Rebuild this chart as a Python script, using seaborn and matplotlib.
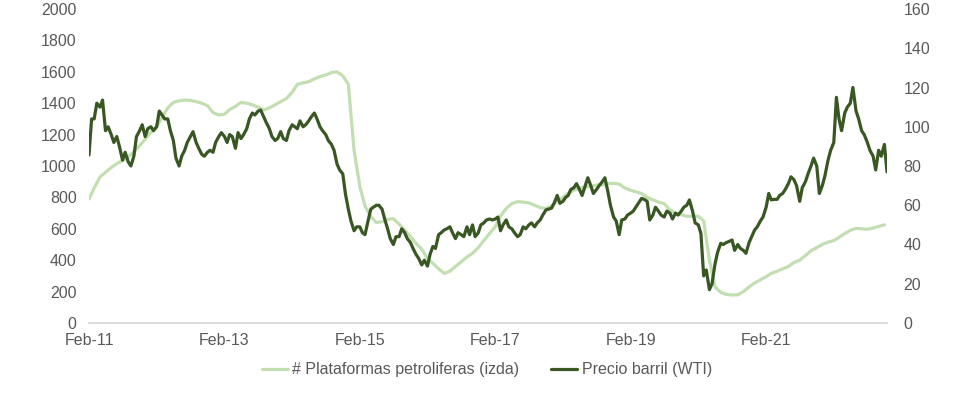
"""
plot.py
US oil rig count vs WTI barrel price, dual axis line chart.
"""

import matplotlib
matplotlib.use("Agg")
import matplotlib.pyplot as plt
import matplotlib.dates as mdates
import pandas as pd
import seaborn as sns

# Oil rigs, monthly from Feb-2011 (left axis)
RIGS = [
    790, 860, 930, 960, 990, 1015, 1035, 1059, 1090, 1130, 1170, 1215,
    1250, 1310, 1370, 1405, 1415, 1420, 1418, 1410, 1400, 1385, 1340, 1325,
    1330, 1360, 1380, 1405, 1400, 1390, 1375, 1357, 1370, 1390, 1410, 1430,
    1470, 1520, 1530, 1537, 1555, 1570, 1580, 1595, 1600, 1575, 1520, 1100,
    870, 745, 677, 640, 645, 660, 665, 630, 592, 550, 508, 470,
    410, 380, 345, 316, 330, 360, 390, 420, 444, 480, 525, 570,
    613, 680, 730, 760, 773, 770, 765, 750, 735, 730, 745, 780,
    800, 826, 845, 860, 865, 870, 879, 880, 888, 890, 885, 860,
    845, 836, 825, 800, 785, 770, 760, 720, 699, 690, 680, 680,
    680, 650, 400, 230, 195, 182, 178, 180, 200, 230, 255, 275,
    295, 316, 330, 345, 360, 385, 400, 430, 460, 480, 500, 515,
    525, 545, 570, 590, 603, 600, 597, 605, 615, 625,
]

# WTI price, twice a month from Feb-2011 (right axis)
WTI = [
    85.6, 104, 104, 112, 110, 113.6, 98, 100, 96, 92, 95, 90,
    83, 87, 82, 80, 85, 95, 98, 101, 95, 99, 100, 98,
    100, 108, 106, 104, 104, 98, 93, 84, 80, 85, 88, 92,
    95, 97.5, 92, 89, 86, 85, 87, 88, 87, 92, 95, 97,
    95, 92, 96, 95, 89, 97, 94, 96, 99, 104, 107, 106,
    108, 108.5, 105, 102, 99, 95, 93, 94, 97.5, 94, 93, 98,
    101, 100, 99, 103, 100, 101, 103, 105, 107, 104, 100, 98,
    96, 93, 91, 88, 81, 78, 76, 66, 58, 52, 47, 49,
    49, 46, 45, 51, 58, 59, 60, 60, 58, 53, 48, 43,
    40, 44, 44, 48, 46, 43, 41, 38, 35, 33, 29.6, 32,
    29, 35, 39, 38, 45, 46, 47.4, 48, 49, 46, 43, 46,
    45, 44, 49, 45, 50, 44, 46, 50, 51, 52.5, 53, 52.5,
    53, 54, 47, 50, 52.5, 49, 48, 46, 44, 45, 49, 48,
    50, 51, 49, 51, 52.5, 55, 57.6, 58, 58.5, 61, 65, 61,
    62, 64, 65, 68, 69, 71, 68, 65, 70, 74, 70, 66,
    68, 70, 72, 74, 67, 60, 54, 52, 45, 52.5, 53, 55,
    56, 57, 59, 61, 63.5, 63, 62, 52.5, 55, 59, 57, 55,
    54, 57, 56, 53, 56, 55, 57, 59, 60, 62.7, 57, 51,
    50, 45.7, 24, 27, 17, 20, 30, 36, 40.6, 40, 41, 41.5,
    42.3, 37, 40, 38, 37, 35.5, 41, 44, 47.4, 49, 52, 54,
    59, 66, 62.7, 63, 63, 65, 66, 68, 71, 74.5, 73, 70,
    62, 69, 72, 76, 80, 84, 80, 66, 70, 75, 83, 88,
    92, 115, 104, 98, 107, 110, 112, 120, 108, 104, 98, 96,
    92, 88, 85, 78, 88, 85, 91, 77,
]

RIG_LABEL = "# Plataformas petroliferas (izda)"
WTI_LABEL = "Precio barril (WTI)"
TICK_YEARS = [2011, 2013, 2015, 2017, 2019, 2021]

LIGHT = "#c2dfb2"
DARK = "#385723"
GREY = "#595959"
FS = 11.5


def main():
    rigs = pd.DataFrame({
        "fecha": pd.date_range("2011-02-01", periods=len(RIGS), freq="MS"),
        "valor": RIGS,
    })
    wti = pd.DataFrame({
        "fecha": pd.date_range("2011-02-01", periods=len(WTI), freq="SMS"),
        "valor": WTI,
    })

    sns.set_style("white")
    plt.rcParams["font.family"] = ["Liberation Sans", "DejaVu Sans"]

    fig, ax = plt.subplots(figsize=(9.55, 3.99), dpi=100)
    fig.subplots_adjust(left=0.0932, right=0.9288, bottom=0.1905, top=0.9774)
    ax2 = ax.twinx()

    sns.lineplot(data=rigs, x="fecha", y="valor", ax=ax, color=LIGHT,
                 linewidth=2.3, label=RIG_LABEL, legend=False)
    sns.lineplot(data=wti, x="fecha", y="valor", ax=ax2, color=DARK,
                 linewidth=2.3, label=WTI_LABEL, legend=False)

    ax.set_xlim(wti["fecha"].iloc[0], wti["fecha"].iloc[-1])
    ax.set_ylim(0, 2000)
    ax2.set_ylim(0, 160)
    ax.set_yticks(range(0, 2001, 200))
    ax2.set_yticks(range(0, 161, 20))

    ax.set_xticks([pd.Timestamp(f"{y}-02-01") for y in TICK_YEARS])
    ax.xaxis.set_major_formatter(mdates.DateFormatter("%b-%y"))

    for a in (ax, ax2):
        a.set_xlabel("")
        a.set_ylabel("")
        for side in ("top", "left", "right", "bottom"):
            a.spines[side].set_visible(False)
    ax.spines["bottom"].set_visible(True)
    ax.spines["bottom"].set_color("#d9d9d9")
    ax.spines["bottom"].set_linewidth(1.3)

    ax.tick_params(axis="y", length=0, pad=9, labelsize=FS, labelcolor=GREY)
    ax2.tick_params(axis="y", length=0, pad=12, labelsize=FS, labelcolor=GREY)
    ax.tick_params(axis="x", direction="in", length=5, width=1, color="#d9d9d9",
                   pad=7, labelsize=FS, labelcolor=GREY)

    h1, l1 = ax.get_legend_handles_labels()
    h2, l2 = ax2.get_legend_handles_labels()
    fig.legend(h1 + h2, l1 + l2, loc="center", bbox_to_anchor=(0.51, 0.073),
               ncol=2, frameon=False, fontsize=FS, handlelength=1.6,
               handletextpad=0.3, columnspacing=2.0, labelcolor=GREY)

    fig.savefig("out.png", dpi=100)
    plt.close(fig)


if __name__ == "__main__":
    main()
